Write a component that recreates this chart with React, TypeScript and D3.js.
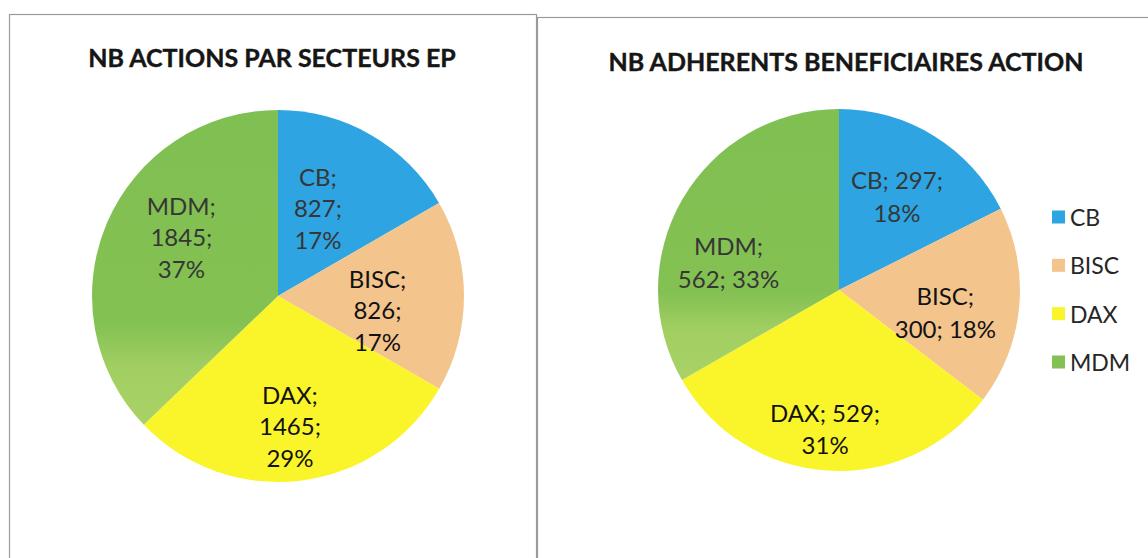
import React from "react";
import * as d3 from "d3";

// ---- data ----
const categories = ["CB", "BISC", "DAX", "MDM"];
const actionsValues = [827, 826, 1465, 1845];
const actionsPercents = ["17%", "17%", "29%", "37%"];
const adherentsValues = [297, 300, 529, 562];
const adherentsPercents = ["18%", "18%", "31%", "33%"];
const titleActions = "NB ACTIONS PAR SECTEURS EP";
const titleAdherents = "NB ADHERENTS BENEFICIAIRES ACTION";

// ---- styling / layout ----
const colors = ["#2ea5e2", "#f4c48d", "#faf52a", "#84c053"];
const labelColors = ["#363636", "#121212", "#121212", "#363636"];
const FONT = "Lato, 'Open Sans', sans-serif";

type ChartCfg = {
  values: number[];
  percents: string[];
  title: string;
  cx: number;
  cy: number;
  r: number;
  titleX: number;
  titleY: number;
  labelRadius: number[]; // fraction of radius
  labelAngleShift: number[]; // degrees
  groups: number[][]; // how the 3 label parts are grouped into lines
  lineHeight: number;
};

const charts: ChartCfg[] = [
  {
    values: actionsValues,
    percents: actionsPercents,
    title: titleActions,
    cx: 278,
    cy: 296,
    r: 186,
    titleX: 272,
    titleY: 67,
    labelRadius: [0.52, 0.54, 0.7, 0.61],
    labelAngleShift: [-5.6, 8, 1.7, 8.5],
    groups: [[1, 1, 1], [1, 1, 1], [1, 1, 1], [1, 1, 1]],
    lineHeight: 31.5,
  },
  {
    values: adherentsValues,
    percents: adherentsPercents,
    title: titleAdherents,
    cx: 839,
    cy: 290,
    r: 181,
    titleX: 846,
    titleY: 71,
    labelRadius: [0.61, 0.6, 0.77, 0.63],
    labelAngleShift: [0, 6.3, 2, -15.8],
    groups: [[2, 1], [1, 2], [2, 1], [1, 2]],
    lineHeight: 32.5,
  },
];

function Pie({ cfg, idx }: { cfg: ChartCfg; idx: number }) {
  const pie = d3
    .pie<number>()
    .sort(null)
    .value((d) => d)
    .startAngle(0)
    .endAngle(2 * Math.PI);
  const arcs = pie(cfg.values);
  const arcGen = d3.arc<d3.PieArcDatum<number>>().innerRadius(0).outerRadius(cfg.r);
  return (
    <g>
      <text
        x={cfg.titleX}
        y={cfg.titleY}
        textAnchor="middle"
        fontFamily={FONT}
        fontWeight="bold"
        fontSize={25}
        fill="#161616"
        stroke="#161616"
        strokeWidth={0.4}
      >
        {cfg.title}
      </text>
      <g transform={`translate(${cfg.cx},${cfg.cy})`}>
        {arcs.map((a, i) => (
          <path
            key={i}
            d={arcGen(a) || ""}
            fill={i === 3 ? `url(#mdmGrad${idx})` : colors[i]}
          />
        ))}
        {arcs.map((a, i) => {
          const mid = (a.startAngle + a.endAngle) / 2 + (cfg.labelAngleShift[i] * Math.PI) / 180;
          const rr = cfg.r * cfg.labelRadius[i];
          const x = Math.sin(mid) * rr;
          const y = -Math.cos(mid) * rr;
          const parts = [categories[i] + ";", String(cfg.values[i]) + ";", cfg.percents[i]];
          const lines: string[] = [];
          let k = 0;
          for (const g of cfg.groups[i]) {
            lines.push(parts.slice(k, k + g).join(" "));
            k += g;
          }
          const y0 = y - ((lines.length - 1) / 2) * cfg.lineHeight;
          return (
            <text
              key={"l" + i}
              textAnchor="middle"
              fontFamily={FONT}
              fontSize={24}
              fill={labelColors[i]}
            >
              {lines.map((ln, j) => (
                <tspan key={j} x={x} y={y0 + j * cfg.lineHeight} dominantBaseline="central">
                  {ln}
                </tspan>
              ))}
            </text>
          );
        })}
      </g>
    </g>
  );
}

export default function App() {
  const legendY = d3.scalePoint<string>().domain(categories).range([217, 362]);
  return (
    <svg
      width={1148}
      height={558}
      style={{ position: "absolute", left: 0, top: 0, background: "#fff" }}
    >
      <defs>
        {[0, 1].map((i) => (
          <linearGradient key={i} id={`mdmGrad${i}`} x1="0" y1="0" x2="0" y2="1">
            <stop offset="0" stopColor="#80bf52" />
            <stop offset="0.68" stopColor="#84c153" />
            <stop offset="0.82" stopColor="#a2cf62" />
            <stop offset="1" stopColor="#a9d266" />
          </linearGradient>
        ))}
      </defs>
      <rect x={0} y={0} width={1148} height={558} fill="#fff" />
      {/* chart frames */}
      <rect x={9.5} y={14.5} width={527} height={560} fill="none" stroke="#9a9a9a" strokeWidth={1.2} />
      <rect x={537.5} y={17.5} width={620} height={560} fill="none" stroke="#9a9a9a" strokeWidth={1.2} />
      {charts.map((c, i) => (
        <Pie key={i} cfg={c} idx={i} />
      ))}
      {/* legend */}
      {categories.map((c, i) => (
        <g key={c}>
          <rect x={1052} y={(legendY(c) as number) - 6.5} width={13} height={13} fill={colors[i]} />
          <text
            x={1070}
            y={legendY(c) as number}
            dominantBaseline="central"
            fontFamily={FONT}
            fontSize={23}
            fill="#262626"
          >
            {c}
          </text>
        </g>
      ))}
    </svg>
  );
}
